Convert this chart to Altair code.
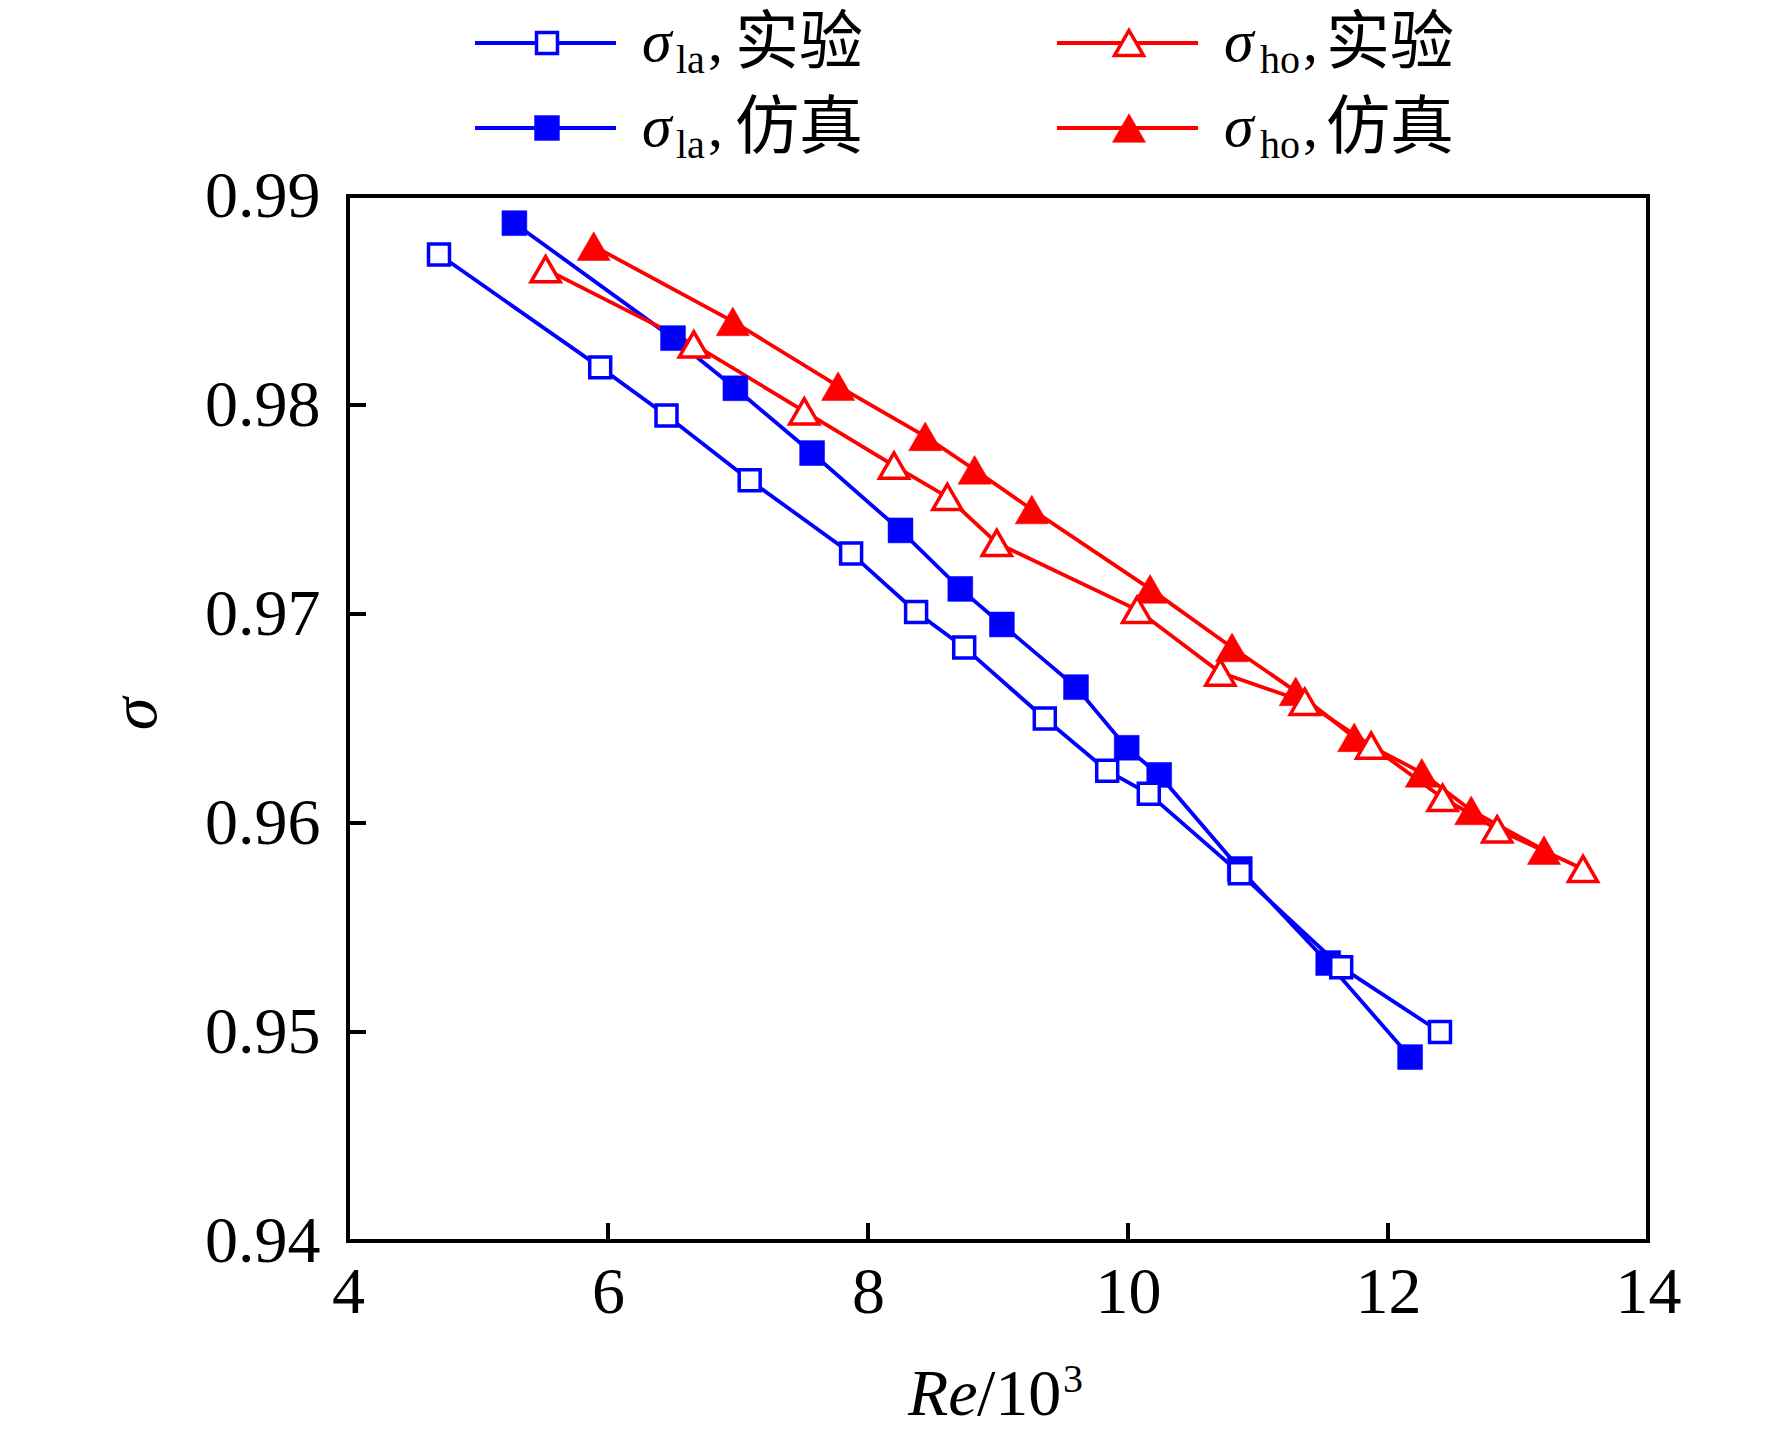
import altair as alt
import pandas as pd

# ---- data ----
la_exp_re = [4.70, 5.94, 6.45, 7.09, 7.87, 8.37, 8.74, 9.36, 9.84, 10.16, 10.86, 11.64, 12.40]
la_exp_s = [0.9872, 0.9818, 0.9795, 0.9764, 0.9729, 0.9701, 0.9684, 0.9650, 0.9625, 0.9614, 0.9576, 0.9531, 0.9500]
la_sim_re = [5.28, 6.50, 6.98, 7.57, 8.25, 8.71, 9.03, 9.60, 9.99, 10.24, 10.86, 11.54, 12.17]
la_sim_s = [0.9887, 0.9832, 0.9808, 0.9777, 0.9740, 0.9712, 0.9695, 0.9665, 0.9636, 0.9623, 0.9578, 0.9533, 0.9488]
ho_exp_re = [5.52, 6.66, 7.51, 8.20, 8.61, 8.99, 10.07, 10.71, 11.36, 11.87, 12.42, 12.84, 13.50]
ho_exp_s = [0.9865, 0.9829, 0.9797, 0.9771, 0.9756, 0.9734, 0.9702, 0.9672, 0.9658, 0.9637, 0.9612, 0.9597, 0.9578]
ho_sim_re = [5.89, 6.96, 7.77, 8.44, 8.82, 9.26, 10.17, 10.80, 11.29, 11.74, 12.26, 12.64, 13.20]
ho_sim_s = [0.9876, 0.9840, 0.9809, 0.9785, 0.9769, 0.9750, 0.9712, 0.9684, 0.9663, 0.9641, 0.9624, 0.9606, 0.9587]

series_names = ["la_exp", "la_sim", "ho_exp", "ho_sim"]
x_ticks = [4, 6, 8, 10, 12, 14]
y_ticks = [0.94, 0.95, 0.96, 0.97, 0.98, 0.99]
inner_x_ticks = [6, 8, 10, 12]
inner_y_ticks = [0.95, 0.96, 0.97, 0.98]

BLUE = "#0000ff"
RED = "#ff0000"
SERIF = "Liberation Serif"
CJK = "Noto Sans CJK SC"

rows = []
for name, xs, ys in [("la_exp", la_exp_re, la_exp_s), ("la_sim", la_sim_re, la_sim_s),
                     ("ho_exp", ho_exp_re, ho_exp_s), ("ho_sim", ho_sim_re, ho_sim_s)]:
    for a, b in zip(xs, ys):
        rows.append({"Re": a, "sigma": b, "series": name})
df = pd.DataFrame(rows)

W, H = 1300, 1045

xscale = alt.Scale(domain=[4, 14], nice=False, zero=False)
yscale = alt.Scale(domain=[0.94, 0.99], nice=False, zero=False)
xaxis = alt.Axis(values=x_ticks, format="d", labelFlush=False, labelPadding=19, title=None)
yaxis = alt.Axis(values=y_ticks, format=".2f", labelPadding=28, title=None)

def X(field="Re:Q"):
    return alt.X(field, scale=xscale, axis=xaxis, title=None)

def Y(field="sigma:Q"):
    return alt.Y(field, scale=yscale, axis=yaxis, title=None)

color = alt.Color("series:N", scale=alt.Scale(domain=series_names, range=[BLUE, BLUE, RED, RED]), legend=None)

lines = alt.Chart(df).mark_line(strokeWidth=3.8).encode(x=X(), y=Y(), color=color, detail="series:N")

def pts(name, shape, filled, col, size):
    m = alt.Chart(df).transform_filter(alt.datum.series == name)
    if filled:
        m = m.mark_point(shape=shape, filled=True, fill=col, stroke=col, strokeWidth=0.5, size=size, opacity=1)
    else:
        m = m.mark_point(shape=shape, filled=False, fill="white", fillOpacity=1, stroke=col,
                         strokeWidth=3.5, size=size, opacity=1)
    return m.encode(x=X(), y=Y())

SQ_F, SQ_O, TR_F, TR_O = 620, 440, 1100, 850

p_la_sim = pts("la_sim", "square", True, BLUE, SQ_F)
p_ho_sim = pts("ho_sim", "triangle-up", True, RED, TR_F)
p_la_exp = pts("la_exp", "square", False, BLUE, SQ_O)
p_ho_exp = pts("ho_exp", "triangle-up", False, RED, TR_O)

# inward ticks
xt = alt.Chart(pd.DataFrame({"Re": inner_x_ticks})).mark_rule(color="black", strokeWidth=4).encode(
    x=X(), y=alt.value(H), y2=alt.value(H - 18))
yt = alt.Chart(pd.DataFrame({"sigma": inner_y_ticks})).mark_rule(color="black", strokeWidth=4).encode(
    y=Y(), x=alt.value(0), x2=alt.value(18))

one = pd.DataFrame({"k": [0]})

def txt(s, x, y, size, font=SERIF, style="normal", angle=0, align="left", baseline="alphabetic"):
    return alt.Chart(one).mark_text(text=s, font=font, fontSize=size, fontStyle=style, color="black",
                                    align=align, baseline=baseline, angle=angle).encode(
        x=alt.value(x), y=alt.value(y))

# axis titles
titles = [
    txt("Re", 560, 1219, 66, style="italic"),
    txt("/10", 629, 1219, 66),
    txt("3", 715, 1196, 40),
    txt("σ", -212, 518, 66, style="italic", angle=270, align="center", baseline="middle"),
]

# legend
def legend_item(x0, ly, tb, shape, filled, col, size, sub, sub_dx, comma_dx, cjk_dx, word):
    layers = []
    layers.append(alt.Chart(one).mark_rule(color=col, strokeWidth=3.8).encode(
        x=alt.value(x0), x2=alt.value(x0 + 141), y=alt.value(ly)))
    if filled:
        mk = alt.Chart(one).mark_point(shape=shape, filled=True, fill=col, stroke=col, strokeWidth=0.5,
                                       size=size, opacity=1)
    else:
        mk = alt.Chart(one).mark_point(shape=shape, filled=False, fill="white", fillOpacity=1, stroke=col,
                                       strokeWidth=3.5, size=size, opacity=1)
    layers.append(mk.encode(x=alt.value(x0 + 72), y=alt.value(ly)))
    sx = x0 + 167
    layers.append(txt("σ", sx, tb, 60, style="italic"))
    layers.append(txt(sub, sx + sub_dx, tb + 12, 40))
    layers.append(txt(",", sx + comma_dx, tb, 60))
    layers.append(txt(word, sx + cjk_dx, tb + 2, 64, font=CJK))
    return layers

leg = []
leg += legend_item(127, -153, -135, "square", False, BLUE, SQ_O, "la", 34, 66, 93, "实验")
leg += legend_item(127, -68, -50, "square", True, BLUE, SQ_F, "la", 34, 66, 93, "仿真")
leg += legend_item(709, -153, -135, "triangle-up", False, RED, TR_O, "ho", 36, 79, 102, "实验")
leg += legend_item(709, -68, -50, "triangle-up", True, RED, TR_F, "ho", 36, 79, 102, "仿真")

chart = alt.layer(lines, xt, yt, p_la_sim, p_ho_sim, p_la_exp, p_ho_exp, *titles, *leg).properties(
    width=W, height=H,
    autosize=alt.AutoSizeParams(type="none"),
    padding={"left": 340, "top": 188, "right": 116, "bottom": 187},
    background="white",
).configure_view(stroke="black", strokeWidth=4).configure_axis(
    domain=False, ticks=False, grid=False, labelFont=SERIF, labelFontSize=66, labelColor="black"
)

chart.save("out.html", embed_options={"renderer": "svg", "actions": False})
